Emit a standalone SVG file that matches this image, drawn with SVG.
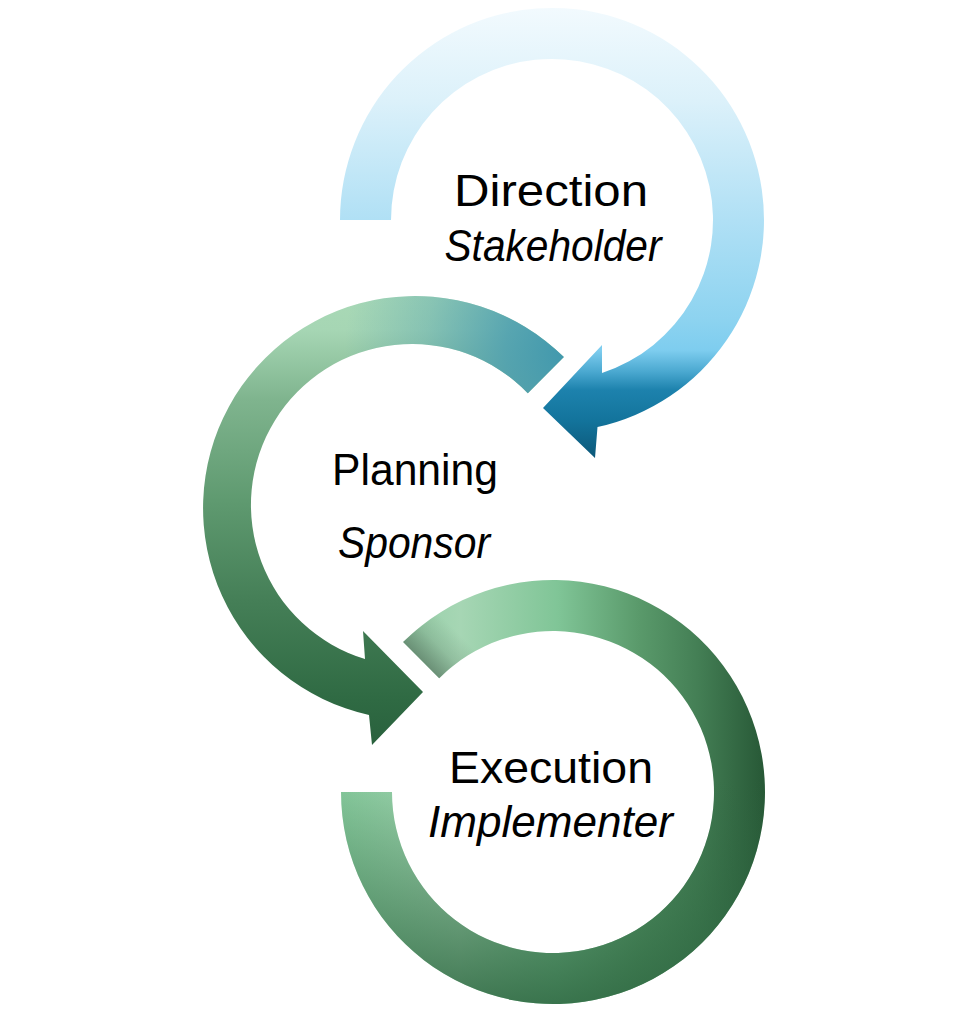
<svg xmlns="http://www.w3.org/2000/svg" width="966" height="1009" viewBox="0 0 966 1009">
  <style>
    .t { font-family: "Liberation Sans", Arial, sans-serif; font-size: 45px; fill: #000; text-anchor: middle; }
    .i { font-style: italic; }
  </style>
  <defs>
    <linearGradient id="gBlue" gradientUnits="userSpaceOnUse" x1="0" y1="8" x2="0" y2="460">
      <stop offset="0" stop-color="#f2fafe"/>
      <stop offset="0.204" stop-color="#dcf1fa"/>
      <stop offset="0.469" stop-color="#b0e0f5"/>
      <stop offset="0.69" stop-color="#8dd3f0"/>
      <stop offset="0.757" stop-color="#7ecdef"/>
      <stop offset="0.805" stop-color="#4aa8d0"/>
      <stop offset="0.845" stop-color="#1d82ad"/>
      <stop offset="0.912" stop-color="#13749c"/>
      <stop offset="1" stop-color="#0c5677"/>
    </linearGradient>
    <linearGradient id="gMid" gradientUnits="userSpaceOnUse" x1="0" y1="295" x2="0" y2="745">
      <stop offset="0" stop-color="#a9d9b6"/>
      <stop offset="0.078" stop-color="#a6d6b4"/>
      <stop offset="0.233" stop-color="#7fb48e"/>
      <stop offset="0.456" stop-color="#5f9a70"/>
      <stop offset="0.678" stop-color="#457f57"/>
      <stop offset="0.9" stop-color="#2f6a43"/>
      <stop offset="1" stop-color="#29613d"/>
    </linearGradient>
    <radialGradient id="gTeal" gradientUnits="userSpaceOnUse" cx="575" cy="350" r="230">
      <stop offset="0" stop-color="#3d96ad" stop-opacity="1"/>
      <stop offset="0.3" stop-color="#4a9db0" stop-opacity="0.85"/>
      <stop offset="0.65" stop-color="#4a9db0" stop-opacity="0.35"/>
      <stop offset="1" stop-color="#4a9db0" stop-opacity="0"/>
    </radialGradient>
    <linearGradient id="gBot" gradientUnits="userSpaceOnUse" x1="342" y1="0" x2="765" y2="0">
      <stop offset="0" stop-color="#86c99c"/>
      <stop offset="0.28" stop-color="#a6d6b4"/>
      <stop offset="0.51" stop-color="#80c597"/>
      <stop offset="0.7" stop-color="#5a9a6b"/>
      <stop offset="0.84" stop-color="#447f55"/>
      <stop offset="1" stop-color="#275836"/>
    </linearGradient>
    <linearGradient id="gBotDark" gradientUnits="userSpaceOnUse" x1="0" y1="780" x2="0" y2="1003">
      <stop offset="0" stop-color="#2d6640" stop-opacity="0"/>
      <stop offset="1" stop-color="#2d6640" stop-opacity="0.85"/>
    </linearGradient>
    <linearGradient id="gShade" gradientUnits="userSpaceOnUse" x1="421" y1="660" x2="453" y2="628">
      <stop offset="0" stop-color="#5a7a64" stop-opacity="0.75"/>
      <stop offset="0.5" stop-color="#5a7a64" stop-opacity="0.25"/>
      <stop offset="1" stop-color="#5a7a64" stop-opacity="0"/>
    </linearGradient>
  </defs>

  <g id="direction">
    <path fill="url(#gBlue)" d="M 340,220 A 212 212 0 1 1 597.5,427 L 595,458 L 543,408 L 602,345 L 602,373 A 161 161 0 1 0 391,220 Z"/>
    <text class="t" x="551" y="206" textLength="194" lengthAdjust="spacingAndGlyphs">Direction</text>
    <text class="t i" x="553" y="261" textLength="217" lengthAdjust="spacingAndGlyphs">Stakeholder</text>
  </g>

  <g id="planning">
    <path fill="url(#gMid)" d="M 563.9,357.1 A 212 212 0 1 0 369,715 L 372,745 L 423,692 L 363,631 L 365,659 A 161 161 0 1 1 527.8,393.2 Z"/>
    <path fill="url(#gTeal)" d="M 563.9,357.1 A 212 212 0 1 0 369,715 L 372,745 L 423,692 L 363,631 L 365,659 A 161 161 0 1 1 527.8,393.2 Z"/>
    <text class="t" x="415" y="485" textLength="166" lengthAdjust="spacingAndGlyphs">Planning</text>
    <text class="t i" x="414" y="558" textLength="152" lengthAdjust="spacingAndGlyphs">Sponsor</text>
  </g>

  <g id="execution">
    <path fill="url(#gBot)" d="M 403.1,642.1 A 212 212 0 1 1 341,792 L 392,792 A 161 161 0 1 0 439.2,678.2 Z"/>
    <path fill="url(#gBotDark)" d="M 403.1,642.1 A 212 212 0 1 1 341,792 L 392,792 A 161 161 0 1 0 439.2,678.2 Z"/>
    <path fill="url(#gShade)" d="M 403.1,642.1 A 212 212 0 0 1 463.4,599.9 L 485,646.1 A 161 161 0 0 0 439.2,678.2 Z"/>
    <text class="t" x="551" y="783" textLength="204" lengthAdjust="spacingAndGlyphs">Execution</text>
    <text class="t i" x="550.5" y="837" textLength="245" lengthAdjust="spacingAndGlyphs">Implementer</text>
  </g>
</svg>
